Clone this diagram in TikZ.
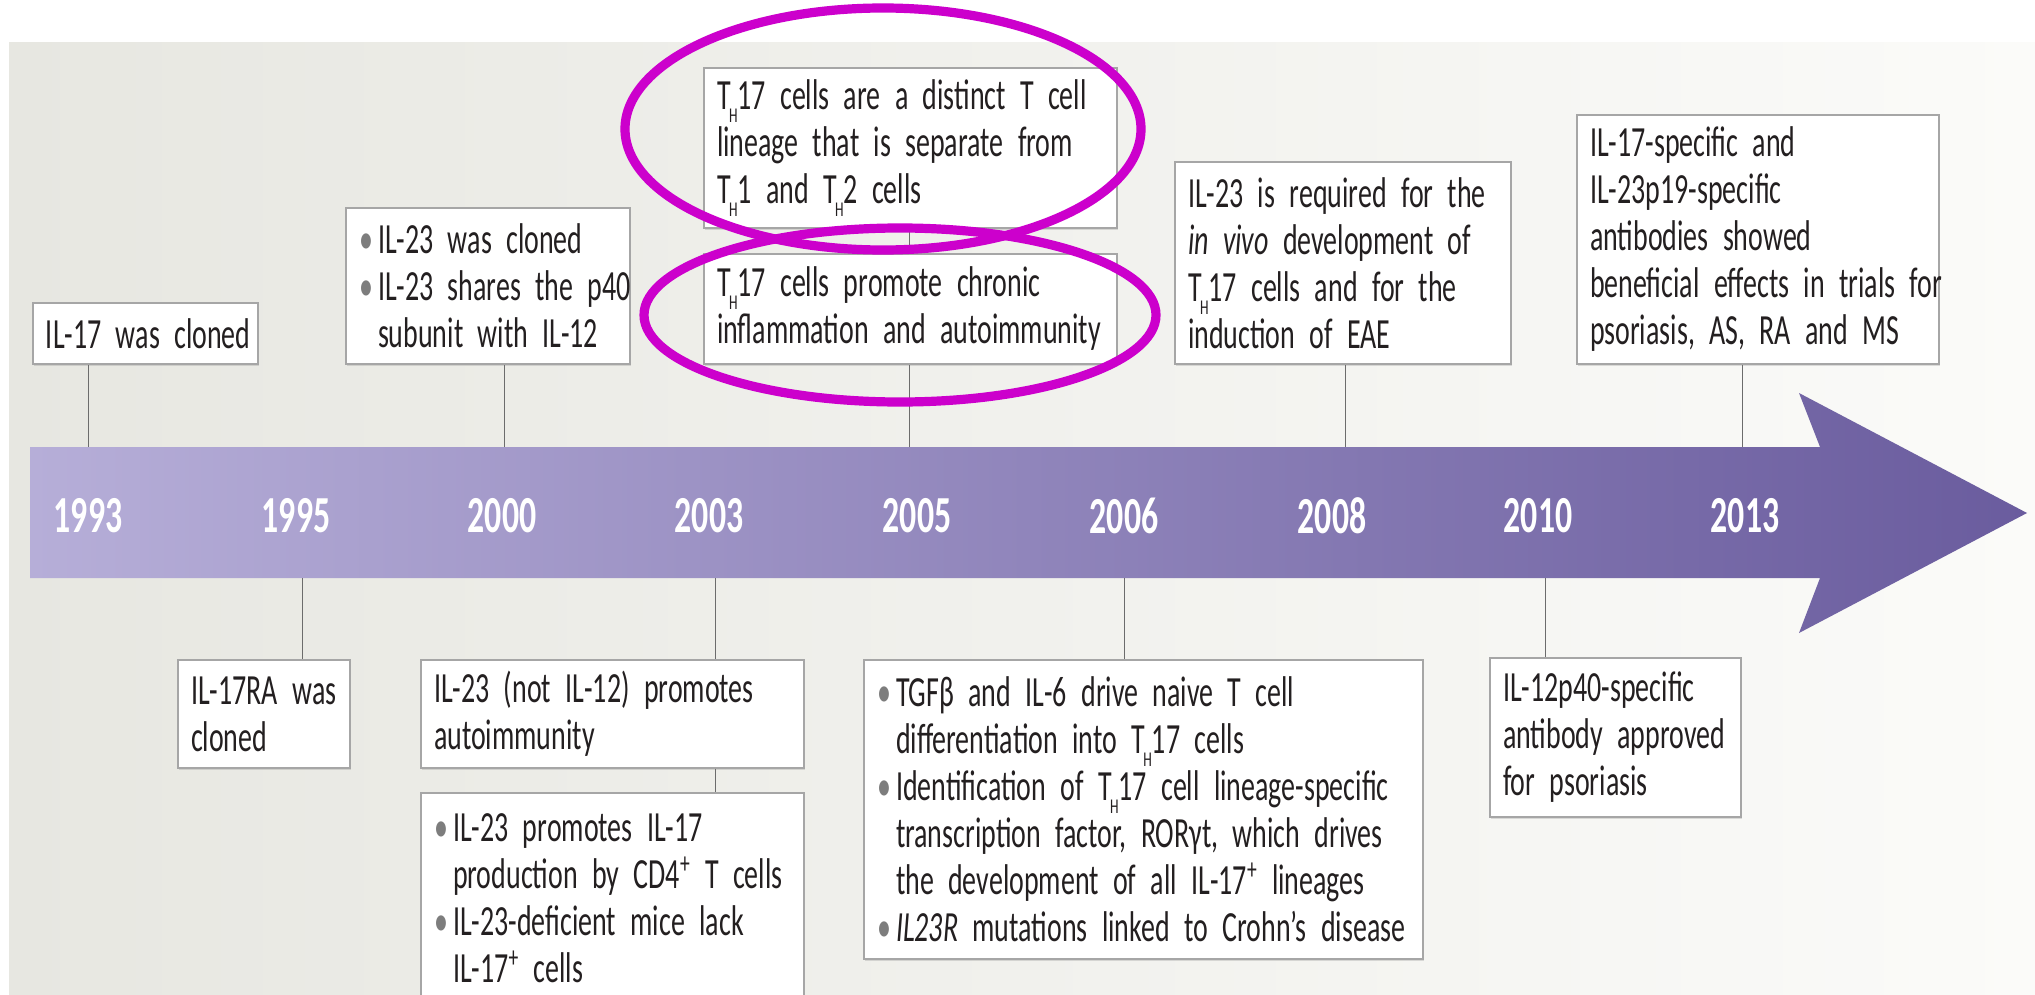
\documentclass[tikz,border=0pt]{standalone}
\usepackage{fontspec}
\setmainfont{Carlito}[FakeStretch=0.65]
\usetikzlibrary{positioning,shadows}

\hyphenpenalty=10000
\exhyphenpenalty=10000

\definecolor{bgleft}{RGB}{231,231,225}
\definecolor{bgright}{RGB}{251,251,249}
\definecolor{bandleft}{RGB}{182,174,216}
\definecolor{bandright}{RGB}{106,92,158}
\definecolor{ringcol}{RGB}{204,0,204}
\definecolor{dotgray}{RGB}{125,125,125}
\definecolor{txt}{RGB}{35,31,32}

\newcommand{\evfont}{\fontsize{21.5}{23.5}\selectfont\spaceskip=3.6pt plus 1pt minus 0.5pt\relax}
\newcommand{\Tsub}{T\kern-0.8pt\raisebox{-6.5pt}{\fontsize{10.5}{10.5}\selectfont H}}
\newcommand{\bul}{\makebox[9.5pt][l]{\textcolor{dotgray}{\textbullet}}}
\newcommand{\cont}{\hspace*{9.5pt}}

\tikzset{
  event/.style={draw=gray!70, fill=white, line width=0.6pt, align=left,
    inner xsep=6.5pt, inner ysep=0pt, text=txt, font=\evfont,
    execute at begin node={\rightskip=0pt plus 1fil minus 30pt},
    drop shadow={opacity=0.25, shadow xshift=0.6pt, shadow yshift=-0.8pt}},
  year/.style={text=white, font=\fontsize{26}{26}\selectfont\bfseries},
  tick/.style={draw=gray!85!black, line width=0.5pt},
  ring/.style={draw=ringcol, line width=4.6pt},
}

\begin{document}
\begin{tikzpicture}[x=0.5pt, y=-0.5pt]
    \useasboundingbox (0,0) rectangle (2035,995);
    \clip (0,0) rectangle (2035,995);

    % Backdrop
    \fill[white] (0,0) rectangle (2035,995);
    \shade[left color=bgleft, right color=bgright] (9,43) rectangle (2035,995);

    % Ticks on the band
    \coordinate (t1993) at (88,447);
    \coordinate (t1995) at (302,578);
    \coordinate (t2000) at (504,447);
    \coordinate (t2003) at (715,578);
    \coordinate (t2005) at (909,447);
    \coordinate (t2006) at (1124,578);
    \coordinate (t2008) at (1345,447);
    \coordinate (t2010) at (1545,578);
    \coordinate (t2013) at (1742,447);

    % Time band
    \shade[left color=bandleft, right color=bandright]
        (30,447) -- (1820,447) -- (1799,393) -- (2027,513)
        -- (1799,633) -- (1820,578) -- (30,578) -- cycle;

    % Years
    \node[year] (y1993) at (88,516) {1993};
    \node[year] (y1995) at (296,516) {1995};
    \node[year] (y2000) at (502,516) {2000};
    \node[year] (y2003) at (709,516) {2003};
    \node[year] (y2005) at (917,516) {2005};
    \node[year] (y2006) at (1124,516) {2006};
    \node[year] (y2008) at (1332,516) {2008};
    \node[year] (y2010) at (1538,516) {2010};
    \node[year] (y2013) at (1745,516) {2013};

    % Events above
    \node[event, text width=99.5pt, minimum height=30.5pt] (b1993) at (145.5,333.5)
        {IL-17 was cloned};
    \node[event, text width=129pt, minimum height=78pt] (b2000) at (488,286)
        {\bul IL-23 was cloned\\ \bul IL-23 shares the p40\\ \cont subunit with IL-12};
    \node[event, text width=193.5pt, minimum height=80pt] (b2005a) at (910.5,148)
        {\Tsub17 cells are a distinct T cell\\ lineage that is separate from\\ \Tsub1 and \Tsub2 cells};
    \node[event, text width=193.5pt, minimum height=55pt] (b2005b) at (910.5,309)
        {\Tsub17 cells promote chronic\\ inflammation and autoimmunity};
    \node[event, text width=155pt, minimum height=101pt] (b2008) at (1343,263)
        {IL-23 is required for the\\ \textit{in vivo} development of\\ \Tsub17 cells and for the\\ induction of EAE};
    \node[event, text width=168pt, minimum height=124.5pt] (b2013) at (1758,239.5)
        {IL-17-specific and\\ IL-23p19-specific\\ antibodies showed\\ beneficial effects in trials for\\ psoriasis, AS, RA and MS};

    % Events below
    \node[event, text width=73pt, minimum height=54pt] (b1995) at (264,714)
        {IL-17RA was\\ cloned};
    \node[event, text width=178.5pt, minimum height=54pt] (b2003a) at (612.5,714)
        {IL-23 (not IL-12) promotes\\ autoimmunity};
    \node[event, text width=178.5pt, minimum height=105pt] (b2003b) at (612.5,898)
        {\bul IL-23 promotes IL-17\\ \cont production by CD4\textsuperscript{+} T cells\\ \bul IL-23-deficient mice lack\\ \cont IL-17\textsuperscript{+} cells};
    \node[event, text width=266.5pt, minimum height=149.5pt] (b2006) at (1143.5,809.5)
        {\bul TGFβ and IL-6 drive naive T cell\\ \cont differentiation into \Tsub17 cells\\ \bul Identification of \Tsub17 cell lineage-specific\\ \cont transcription factor, RORγt, which drives\\ \cont the development of all IL-17\textsuperscript{+} lineages\\ \bul \textit{IL23R} mutations linked to Crohn’s disease};
    \node[event, text width=112.5pt, minimum height=79.5pt] (b2010) at (1615.5,737.5)
        {IL-12p40-specific\\ antibody approved\\ for psoriasis};

    % Connectors
    \draw[tick] (t1993) -- (t1993 |- b1993.south);
    \draw[tick] (t2000) -- (t2000 |- b2000.south);
    \draw[tick] (t2005) -- (t2005 |- b2005b.south);
    \draw[tick] (b2005a.south -| t2005) -- (b2005b.north -| t2005);
    \draw[tick] (t2008) -- (t2008 |- b2008.south);
    \draw[tick] (t2013) -- (t2013 |- b2013.south);
    \draw[tick] (t1995) -- (t1995 |- b1995.north);
    \draw[tick] (t2003) -- (t2003 |- b2003a.north);
    \draw[tick] (b2003a.south -| t2003) -- (b2003b.north -| t2003);
    \draw[tick] (t2006) -- (t2006 |- b2006.north);
    \draw[tick] (t2010) -- (t2010 |- b2010.north);

    % Highlights
    \draw[ring] (883,129) ellipse [x radius=129pt, y radius=60.5pt];
    \draw[ring] (900,315) ellipse [x radius=128pt, y radius=43.5pt];
\end{tikzpicture}
\end{document}
